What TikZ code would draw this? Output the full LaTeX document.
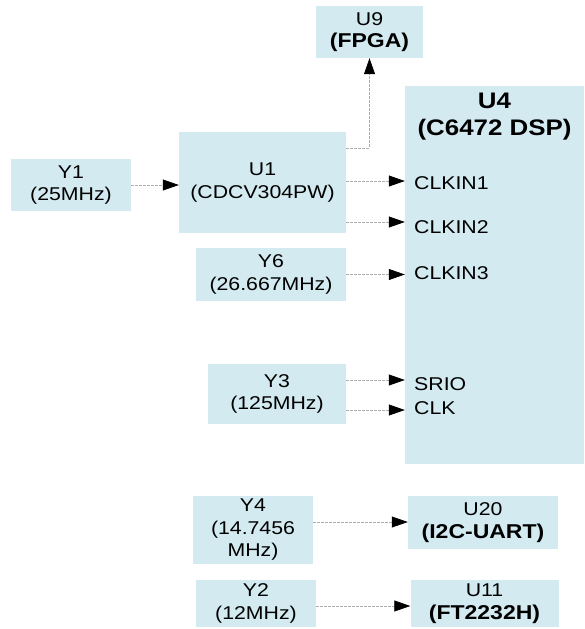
\documentclass[tikz,border=0pt]{standalone}
\usepackage{fontspec}
\setmainfont{Liberation Sans}[FakeStretch=1.15]
\usetikzlibrary{arrows.meta, positioning}
\definecolor{boxBlue}{RGB}{210,234,240}
\definecolor{wireGray}{RGB}{175,175,175}
\tikzset{
  box/.style={rectangle, fill=boxBlue, inner sep=0pt, align=center,
              font=\fontsize{18.5}{22.5}\selectfont},
  pin/.style={anchor=west, inner sep=0pt, font=\fontsize{18.5}{22.5}\selectfont},
  wire/.style={draw=wireGray, line width=0.7pt, dash pattern=on 3pt off 1pt,
              -{Triangle[length=16pt, width=11pt, color=black, fill=black]}},
}
\newcommand{\chipname}[1]{{\fontsize{20}{22.5}\selectfont\bfseries #1}}

\begin{document}
\begin{tikzpicture}[x=1pt,y=-1pt]
\useasboundingbox (0,0) rectangle (584,629);
% devices
\node[box, minimum width=107pt, minimum height=52pt] (u9) at (369.5,32) {U9\\\chipname{(FPGA)}};
\node[box, minimum width=179pt, minimum height=378pt] (u4) at (494.5,275) {};
\node[align=center, inner sep=0pt, font=\fontsize{22.5}{27}\selectfont\bfseries] (u4t) at (494.5,117) {U4\\(C6472 DSP)};
\node[box, minimum width=167pt, minimum height=101pt] (u1) at (262.5,182.5) {U1\\(CDCV304PW)};
\node[box, minimum width=150pt, minimum height=53pt] (u20) at (483,522.5) {U20\\\chipname{(I2C-UART)}};
\node[box, minimum width=148pt, minimum height=47pt] (u11) at (484.5,603.5) {U11\\\chipname{(FT2232H)}};
% crystals
\node[box, minimum width=120pt, minimum height=52pt] (y1) at (71,185) {Y1\\(25MHz)};
\node[box, minimum width=150pt, minimum height=53pt] (y6) at (271,274.5) {Y6\\(26.667MHz)};
\node[box, minimum width=138pt, minimum height=60pt] (y3) at (277,394) {Y3\\(125MHz)};
\node[box, minimum width=120pt, minimum height=68pt] (y4) at (253,530) {Y4\\(14.7456\\MHz)};
\node[box, minimum width=120pt, minimum height=47pt] (y2) at (256,603.5) {Y2\\(12MHz)};
% DSP pins
\node[pin] (clkin1) at (414,183) {CLKIN1};
\node[pin] (clkin2) at (414,227) {CLKIN2};
\node[pin] (clkin3) at (414,273) {CLKIN3};
\node[pin] (srio) at (414,384) {SRIO};
\node[pin] (clk) at (414,408) {CLK};
% clock wires
\draw[wire] (y1.east) -- (y1 -| u1.west);
\draw[wire] (u1.east |- 0,148) -| (u9.south);
\draw[wire] (u1.east |- 0,181) -- (u4.west |- 0,181);
\draw[wire] (u1.east |- 0,222) -- (u4.west |- 0,222);
\draw[wire] (y6.east) -- (y6 -| u4.west);
\draw[wire] (y3.east |- 0,380) -- (u4.west |- 0,380);
\draw[wire] (y3.east |- 0,410) -- (u4.west |- 0,410);
\draw[wire] (y4.east |- 0,522) -- (u20.west |- 0,522);
\draw[wire] (y2.east |- 0,606) -- (u11.west |- 0,606);
\end{tikzpicture}
\end{document}
